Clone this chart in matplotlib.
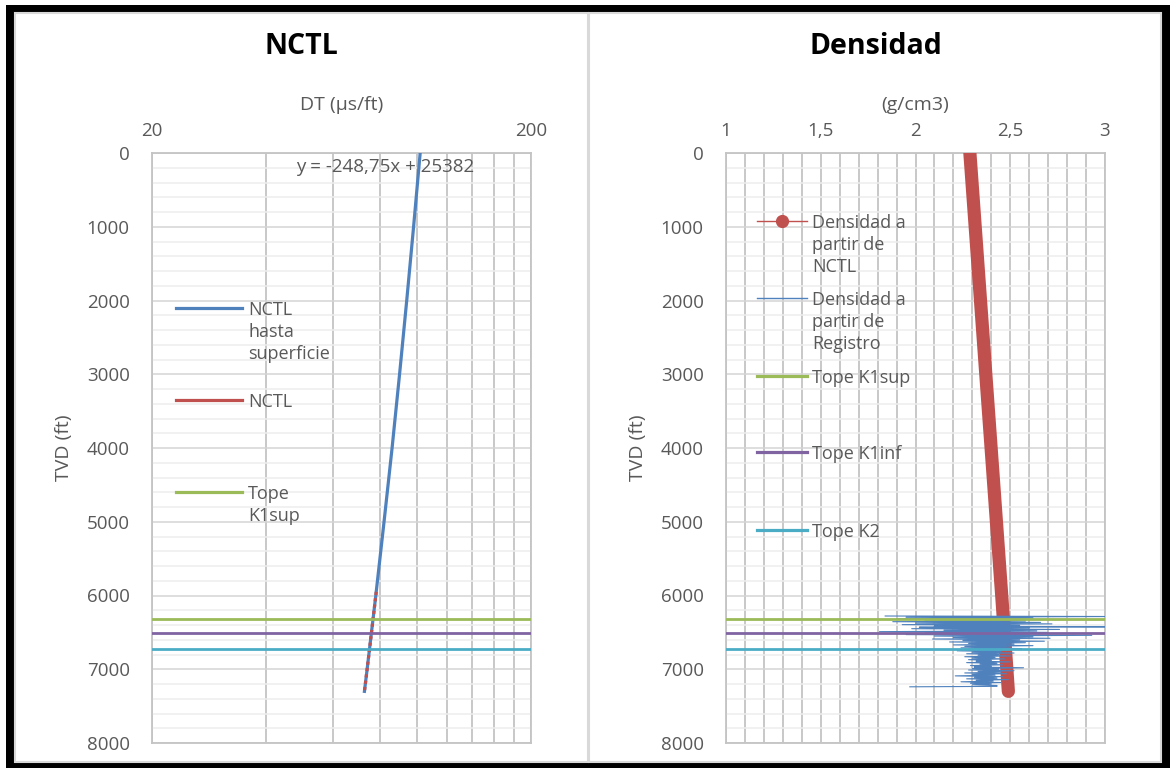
import matplotlib

matplotlib.use("Agg")
import matplotlib.pyplot as plt
from matplotlib.lines import Line2D
from matplotlib.patches import Rectangle
from matplotlib.ticker import FixedLocator, NullFormatter

plt.rcParams["font.family"] = ["Open Sans", "DejaVu Sans"]

# --- data ------------------------------------------------------------------
# left chart: normal compaction trend line (DT vs TVD)
nctl_sup_tvd = [0, 1000, 2000, 3000, 4000, 5000, 6000, 7000, 7300]
nctl_sup_dt = [102.0, 98.0, 94.0, 90.0, 86.0, 81.9, 77.9, 73.9, 72.7]
nctl_tvd = [5950, 6300, 6600, 7000, 7300]
nctl_dt = [78.1, 76.7, 75.5, 73.9, 72.7]
trend_label = "y = -248,75x + 25382"

# formation tops (TVD, ft)
tope_names = ["Tope K1sup", "Tope K1inf", "Tope K2"]
tope_tvd = [6325, 6508, 6732]

# right chart: density from NCTL and from the log
dens_nctl_tvd = [0, 1000, 2000, 3000, 4000, 5000, 6000, 7000, 7300]
dens_nctl = [2.287, 2.315, 2.343, 2.371, 2.399, 2.427, 2.455, 2.482, 2.490]

dens_reg_tvd = [6278, 6285, 6295, 6305, 6315, 6325, 6335, 6345, 6355, 6365,
                6375, 6385, 6395, 6405, 6415, 6425, 6430, 6440, 6450, 6460,
                6470, 6480, 6490, 6500, 6510, 6520, 6530, 6540, 6550, 6560,
                6570, 6580, 6590, 6600, 6610, 6620, 6630, 6640, 6650, 6660,
                6670, 6680, 6690, 6700, 6710, 6720, 6730, 6740, 6750, 6760,
                6770, 6780, 6790, 6800, 6810, 6820, 6830, 6840, 6850, 6860,
                6870, 6880, 6890, 6900, 6910, 6920, 6930, 6940, 6950, 6960,
                6970, 6980, 6990, 7000, 7010, 7020, 7030, 7040, 7050, 7060,
                7070, 7080, 7090, 7100, 7110, 7120, 7130, 7140, 7150, 7160,
                7170, 7180, 7190, 7200, 7210, 7220, 7232, 7238]
dens_reg = [1.84, 3.05, 1.95, 2.62, 1.90, 2.70, 2.05, 2.58, 1.88, 2.66,
            2.00, 2.72, 1.93, 2.55, 2.10, 3.05, 2.02, 2.60, 1.98, 2.76,
            2.15, 2.64, 1.81, 2.70, 2.05, 2.60, 1.95, 2.93, 2.10, 2.62,
            2.20, 2.71, 2.09, 2.55, 2.25, 2.68, 2.18, 2.58, 2.28, 2.52,
            2.20, 2.62, 2.26, 2.50, 2.24, 2.56, 2.28, 2.48, 2.22, 2.45,
            2.30, 2.52, 2.27, 2.44, 2.33, 2.50, 2.26, 2.42, 2.30, 2.47,
            2.28, 2.40, 2.32, 2.50, 2.27, 2.43, 2.34, 2.46, 2.29, 2.40,
            2.31, 2.57, 2.30, 2.44, 2.28, 2.52, 2.33, 2.45, 2.26, 2.48,
            2.30, 2.42, 2.21, 2.46, 2.31, 2.43, 2.27, 2.49, 2.32, 2.41,
            2.24, 2.45, 2.29, 2.40, 2.30, 2.43, 2.43, 1.97]

dt_ticks = [20, 200]
dt_minor = [40, 60, 80, 100, 120, 140, 160, 180]
dens_ticks = [1, 1.5, 2, 2.5, 3]
dens_ticklabels = ["1", "1,5", "2", "2,5", "3"]
dens_minor = [1.1, 1.2, 1.3, 1.4, 1.6, 1.7, 1.8, 1.9, 2.1, 2.2, 2.3, 2.4,
              2.6, 2.7, 2.8, 2.9]
tvd_ticks = [0, 1000, 2000, 3000, 4000, 5000, 6000, 7000, 8000]
tvd_minor = [v for v in range(0, 8001, 200) if v % 1000]

# Excel 2010 palette
BLUE, RED, GREEN, PURPLE, CYAN = "#4F81BD", "#C0504D", "#9BBB59", "#8064A2", "#4BACC6"
TOPE_COLORS = [GREEN, PURPLE, CYAN]
GREY_TXT = "#595959"

W, H = 1170, 768


def fx(x):
    return x / W


def fy(y):
    return 1 - y / H


fig = plt.figure(figsize=(W / 100, H / 100), dpi=100)

# black frame + the two white chart areas
fig.add_artist(Rectangle((fx(6), 0), 1, fy(5), transform=fig.transFigure,
                         facecolor="black", edgecolor="none", zorder=-3))
for x0, x1 in [(15, 588), (589, 1161)]:
    fig.add_artist(Rectangle((fx(x0), fy(762)), fx(x1) - fx(x0), fy(13) - fy(762),
                             transform=fig.transFigure, facecolor="white",
                             edgecolor="#d9d9d9", linewidth=1.5, zorder=-2))


def style_axes(ax):
    ax.set_ylim(8000, 0)
    ax.yaxis.set_major_locator(FixedLocator(tvd_ticks))
    ax.yaxis.set_minor_locator(FixedLocator(tvd_minor))
    ax.xaxis.tick_top()
    ax.xaxis.set_label_position("top")
    ax.tick_params(which="both", length=0, colors=GREY_TXT, labelsize=13.5)
    ax.tick_params(axis="x", pad=9.5)
    ax.tick_params(axis="y", pad=16)
    ax.grid(True, axis="x", which="both", color="#c4c4c4", linewidth=1.3)
    ax.grid(True, axis="y", which="major", color="#d4d4d4", linewidth=1.1)
    ax.grid(True, axis="y", which="minor", color="#eeeeee", linewidth=1.1)
    ax.set_axisbelow(True)
    for s in ax.spines.values():
        s.set_color("#c4c4c4")
        s.set_linewidth(1.3)
    ax.set_ylabel("TVD (ft)", color=GREY_TXT, fontsize=14, labelpad=10)


# --- left: NCTL ---------------------------------------------------------------
ax1 = fig.add_axes([fx(152), fy(743), fx(531) - fx(152), fy(153) - fy(743)])
ax1.set_xscale("log")
ax1.set_xlim(20, 200)
style_axes(ax1)
ax1.xaxis.set_major_locator(FixedLocator(dt_ticks))
ax1.xaxis.set_minor_locator(FixedLocator(dt_minor))
ax1.set_xticklabels([str(v) for v in dt_ticks])
ax1.xaxis.set_minor_formatter(NullFormatter())
ax1.set_xlabel("DT (\u00b5s/ft)", color=GREY_TXT, fontsize=14, labelpad=8.5)

ax1.plot(nctl_sup_dt, nctl_sup_tvd, color=BLUE, linewidth=2.3, zorder=3)
ax1.plot(nctl_dt, nctl_tvd, color=RED, linewidth=2.3, dashes=(1.0, 1.0), zorder=4)
for d, c in zip(tope_tvd, TOPE_COLORS):
    ax1.axhline(d, color=c, linewidth=2.0, zorder=5)
ax1.text(82.6, 190, trend_label, color=GREY_TXT, fontsize=13.5, ha="center", va="center")

fig.text(fx(301), fy(47), "NCTL", fontsize=20.5, fontweight="bold", ha="center", va="center")

# --- right: Densidad ------------------------------------------------------------
ax2 = fig.add_axes([fx(726), fy(743), fx(1105) - fx(726), fy(153) - fy(743)])
ax2.set_xlim(1, 3)
style_axes(ax2)
ax2.xaxis.set_major_locator(FixedLocator(dens_ticks))
ax2.xaxis.set_minor_locator(FixedLocator(dens_minor))
ax2.set_xticklabels(dens_ticklabels)
ax2.set_xlabel("(g/cm3)", color=GREY_TXT, fontsize=14, labelpad=8.5)

ax2.plot(dens_nctl, dens_nctl_tvd, color=RED, linewidth=9.5, solid_capstyle="round", zorder=3)
ax2.plot(dens_reg, dens_reg_tvd, color=BLUE, linewidth=0.8, zorder=4)
for d, c in zip(tope_tvd, TOPE_COLORS):
    ax2.axhline(d, color=c, linewidth=2.0, zorder=5)

fig.text(fx(876), fy(47), "Densidad", fontsize=20.5, fontweight="bold", ha="center", va="center")

# --- legends (Excel style: handle beside first line of each label) --------------
left_legend = [
    ("NCTL\nhasta\nsuperficie", dict(color=BLUE, linewidth=2.3), 308),
    ("NCTL", dict(color=RED, linewidth=2.3), 400),
    ("Tope\nK1sup", dict(color=GREEN, linewidth=2.3), 492),
]
right_legend = [
    ("Densidad a\npartir de\nNCTL", dict(color=RED, linewidth=1.0, marker="o", markersize=8.5), 221),
    ("Densidad a\npartir de\nRegistro", dict(color=BLUE, linewidth=1.0), 298),
    ("Tope K1sup", dict(color=GREEN, linewidth=2.3), 376),
    ("Tope K1inf", dict(color=PURPLE, linewidth=2.3), 452),
    ("Tope K2", dict(color=CYAN, linewidth=2.3), 530),
]
for entries, hx0, hx1, tx in [(left_legend, 176, 242, 248), (right_legend, 757, 807, 812)]:
    for label, kw, y in entries:
        fig.add_artist(Line2D([fx(hx0), fx(hx1)], [fy(y), fy(y)], transform=fig.transFigure,
                              color=kw["color"], linewidth=kw["linewidth"]))
        if "marker" in kw:
            fig.add_artist(Line2D([fx((hx0 + hx1) / 2)], [fy(y)], transform=fig.transFigure,
                                  color=kw["color"], marker="o", markersize=kw["markersize"]))
        fig.text(fx(tx), fy(y - 7), label, fontsize=13, color=GREY_TXT, ha="left", va="top",
                 linespacing=1.28)

fig.savefig("out.png", dpi=100, facecolor="white")
